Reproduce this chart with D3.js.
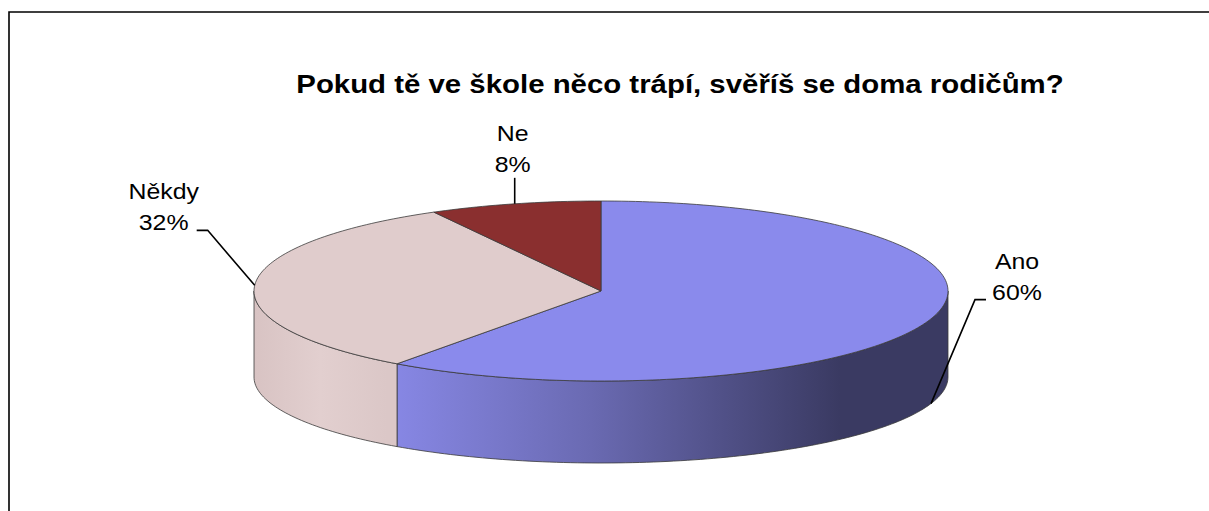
<!DOCTYPE html>
<html>
<head>
<meta charset="utf-8">
<script src="https://cdn.jsdelivr.net/npm/d3@7"></script>
<style>
  body { margin: 0; background: #fff; }
  text { font-family: "Liberation Sans", Arial, sans-serif; fill: #000; }
</style>
</head>
<body>
<div id="chart"></div>
<script>
// data
const categories = ["Ano", "Někdy", "Ne"];
const values = [60, 32, 8];
const percentLabels = ["60%", "32%", "8%"];
const title = "Pokud tě ve škole něco trápí, svěříš se doma rodičům?";

const width = 1209, height = 511;

const topColors = ["#8a8aec", "#e0cccc", "#8a2f2f"];

// ellipse geometry of the 3d pie (top face and bottom rim)
const cx = 601, rx = 347;
const topCy = 291, topRy = 90;
const botCy = 377, botRy = 86;

// leader elbow offsets from the anchor point on the slice
const leaderOffsets = [[44, -104], [-47, -55], [0, -26]];

// the original text is a bit wider than the font
const stretch = 1.13;

const svg = d3.select("#chart").append("svg")
    .attr("width", width)
    .attr("height", height);

function widen(sel) {
    sel.each(function() {
        const len = this.getComputedTextLength();
        d3.select(this)
            .attr("textLength", len * stretch)
            .attr("lengthAdjust", "spacingAndGlyphs");
    });
}

// frame (cut off at right and bottom like the original)
svg.append("path")
    .attr("d", `M9,${height + 2}V12H${width + 2}`)
    .attr("fill", "none")
    .attr("stroke", "#000")
    .attr("stroke-width", 1.6);

svg.append("text")
    .attr("x", 680)
    .attr("y", 93)
    .attr("text-anchor", "middle")
    .style("font-size", "26px")
    .style("font-weight", "bold")
    .text(title)
    .call(widen);

const pie = d3.pie().sort(null).value(d => d);
const arcs = pie(values);

const topPt = a => [cx + rx * Math.sin(a), topCy - topRy * Math.cos(a)];
const botPt = a => [cx + rx * Math.sin(a), botCy - botRy * Math.cos(a)];

function ellArc(ptFn, a0, a1) {
    const n = Math.max(2, Math.ceil(Math.abs(a1 - a0) / 0.02));
    const pts = d3.range(n + 1).map(i => ptFn(a0 + (a1 - a0) * i / n));
    return pts.map(p => p[0].toFixed(2) + "," + p[1].toFixed(2)).join("L");
}

// gradients for the side walls
const defs = svg.append("defs");
const sideGrads = [
    [["0", "#8888e6"], ["0.45", "#6a6ab2"], ["1", "#3a3a62"]],
    [["0", "#d8c3c3"], ["0.5", "#e2cfcf"], ["1", "#dbc7c7"]],
    [["0", "#7a2626"], ["1", "#5a1a1a"]]
];
const gradRange = [[387, 840], [254, 387], [254, 948]];
sideGrads.forEach((stops, i) => {
    const g = defs.append("linearGradient")
        .attr("id", "side" + i)
        .attr("gradientUnits", "userSpaceOnUse")
        .attr("x1", gradRange[i][0]).attr("x2", gradRange[i][1])
        .attr("y1", 0).attr("y2", 0);
    stops.forEach(s => g.append("stop").attr("offset", s[0]).attr("stop-color", s[1]));
});

// side walls: only the front half (pi/2 .. 3pi/2) is visible
const sides = svg.append("g");
arcs.forEach((d, i) => {
    const a0 = Math.max(d.startAngle, Math.PI / 2);
    const a1 = Math.min(d.endAngle, 3 * Math.PI / 2);
    if (a1 <= a0) return;
    const path = "M" + ellArc(topPt, a0, a1) + "L" + ellArc(botPt, a1, a0) + "Z";
    sides.append("path")
        .attr("d", path)
        .attr("fill", `url(#side${i})`)
        .attr("stroke", "#3a3a3a")
        .attr("stroke-width", 0.8)
        .attr("stroke-linejoin", "round");
});

// top faces
const tops = svg.append("g");
arcs.forEach((d, i) => {
    const path = `M${cx},${topCy}L` + ellArc(topPt, d.startAngle, d.endAngle) + "Z";
    tops.append("path")
        .attr("d", path)
        .attr("fill", topColors[i])
        .attr("stroke", "#3a3a3a")
        .attr("stroke-width", 0.8)
        .attr("stroke-linejoin", "round");
});

// labels with leader lines
const labels = svg.append("g");
arcs.forEach((d, i) => {
    const mid = (d.startAngle + d.endAngle) / 2;
    const anchor = Math.cos(mid) < 0 ? botPt(mid) : topPt(mid);
    const elbow = [anchor[0] + leaderOffsets[i][0], anchor[1] + leaderOffsets[i][1]];
    let pts, tx, ty;
    if (leaderOffsets[i][0] > 0) {
        pts = [anchor, elbow, [elbow[0] + 11, elbow[1]]];
        tx = elbow[0] + 42; ty = elbow[1];
    } else if (leaderOffsets[i][0] < 0) {
        pts = [anchor, elbow, [elbow[0] - 11, elbow[1]]];
        tx = elbow[0] - 44; ty = elbow[1];
    } else {
        pts = [anchor, elbow];
        tx = elbow[0] - 2; ty = elbow[1] - 6;
    }
    labels.append("path")
        .attr("d", d3.line()(pts))
        .attr("fill", "none")
        .attr("stroke", "#000")
        .attr("stroke-width", 1.6);
    labels.append("text")
        .attr("x", tx).attr("y", ty - 31)
        .attr("text-anchor", "middle")
        .style("font-size", "22px")
        .text(categories[i])
        .call(widen);
    labels.append("text")
        .attr("x", tx).attr("y", ty)
        .attr("text-anchor", "middle")
        .style("font-size", "22px")
        .text(percentLabels[i])
        .call(widen);
});
</script>
</body>
</html>
